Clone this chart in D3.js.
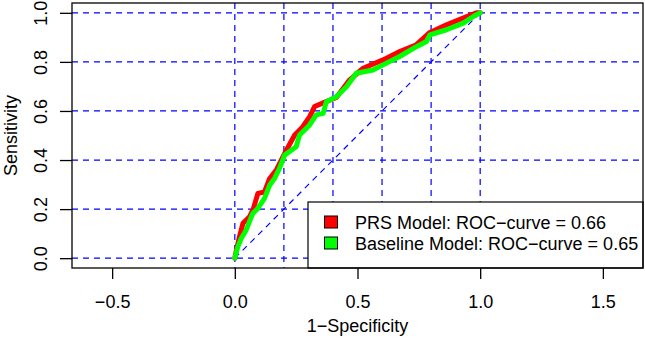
<!doctype html>
<html lang="en">

<head>
    <meta charset="utf-8">
    <title>ROC curves</title>
    <script src="https://cdn.jsdelivr.net/npm/d3@7"></script>
    <style>
        body { margin: 0; background: #fff; }
        svg { display: block; font-family: "Liberation Sans", Arial, sans-serif; }
    </style>
</head>

<body>
    <svg></svg>
    <script>
        var width = 645;
        var height = 340;

        // data
        var prsFpr = [0, 0.008, 0.019, 0.033, 0.06, 0.075, 0.094, 0.121, 0.142, 0.169, 0.196, 0.21, 0.244, 0.277,
            0.305, 0.325, 0.36, 0.414, 0.468, 0.523, 0.604, 0.672, 0.74, 0.795, 0.863, 0.958, 0.985, 1];
        var prsTpr = [0, 0.04, 0.087, 0.142, 0.169, 0.2, 0.264, 0.27, 0.325, 0.359, 0.413, 0.44, 0.502, 0.536,
            0.577, 0.618, 0.633, 0.655, 0.727, 0.774, 0.808, 0.842, 0.87, 0.92, 0.951, 0.99, 1, 1];
        var baseFpr = [0, 0.005, 0.012, 0.026, 0.046, 0.06, 0.073, 0.094, 0.121, 0.142, 0.162, 0.182, 0.203, 0.25,
            0.264, 0.305, 0.332, 0.36, 0.373, 0.414, 0.455, 0.495, 0.563, 0.618, 0.672, 0.74, 0.781, 0.795, 0.863,
            0.931, 0.972, 1];
        var baseTpr = [0, 0.02, 0.046, 0.08, 0.114, 0.15, 0.182, 0.203, 0.244, 0.298, 0.325, 0.366, 0.42, 0.454,
            0.502, 0.543, 0.584, 0.59, 0.638, 0.658, 0.699, 0.754, 0.767, 0.795, 0.822, 0.862, 0.883, 0.91, 0.931,
            0.958, 0.985, 1];
        var xTicks = [-0.5, 0, 0.5, 1, 1.5];
        var yTicks = [0, 0.2, 0.4, 0.6, 0.8, 1];
        var gridV = [0, 0.2, 0.4, 0.6, 0.8, 1];
        var legendLabels = ["PRS Model: ROC\u2212curve = 0.66", "Baseline Model: ROC\u2212curve = 0.65"];
        var colors = ["#ff0000", "#00ff00"];

        // plot region (window.top is reserved, so no bare "top")
        var plotL = 72, plotR = 643, plotT = 3, plotB = 268;
        var unit = (plotB - plotT) / 1.08; // asp = 1
        var xHalf = (plotR - plotL) / 2 / unit;

        var xScale = d3.scaleLinear()
            .domain([0.5 - xHalf, 0.5 + xHalf])
            .range([plotL, plotR]);

        var yScale = d3.scaleLinear()
            .domain([-0.04, 1.04])
            .range([plotB, plotT]);

        var svg = d3.select('svg').attr('width', width).attr('height', height);

        // grid (abline style)
        svg.append('g').selectAll('line')
            .data(yTicks)
            .enter()
            .append('line')
            .attr('x1', plotL).attr('x2', plotR)
            .attr('y1', function (d) { return yScale(d); })
            .attr('y2', function (d) { return yScale(d); })
            .attr('stroke', '#0000ff').attr('stroke-width', 1.2)
            .attr('stroke-dasharray', '6,5');

        svg.append('g').selectAll('line')
            .data(gridV)
            .enter()
            .append('line')
            .attr('y1', plotT).attr('y2', plotB)
            .attr('x1', function (d) { return xScale(d); })
            .attr('x2', function (d) { return xScale(d); })
            .attr('stroke', '#0000ff').attr('stroke-width', 1.2)
            .attr('stroke-dasharray', '6,5');

        // chance diagonal
        svg.append('line')
            .attr('x1', xScale(0)).attr('y1', yScale(0))
            .attr('x2', xScale(1)).attr('y2', yScale(1))
            .attr('stroke', '#0000ff').attr('stroke-width', 1.2)
            .attr('stroke-dasharray', '6,5');

        // ROC curves
        var line = d3.line()
            .x(function (d) { return xScale(d[0]); })
            .y(function (d) { return yScale(d[1]); });

        var curves = [d3.zip(prsFpr, prsTpr), d3.zip(baseFpr, baseTpr)];

        svg.append('g').selectAll('path')
            .data(curves)
            .enter()
            .append('path')
            .attr('d', line)
            .attr('fill', 'none')
            .attr('stroke', function (d, i) { return colors[i]; })
            .attr('stroke-width', 5)
            .attr('stroke-linejoin', 'round')
            .attr('stroke-linecap', 'round');

        // legend
        var lg = svg.append('g');
        lg.append('rect')
            .attr('x', 308).attr('y', 202)
            .attr('width', plotR - 308).attr('height', plotB - 202)
            .attr('fill', '#fff').attr('stroke', '#000').attr('stroke-width', 1.2);

        var rows = lg.selectAll('g.row')
            .data(legendLabels)
            .enter()
            .append('g')
            .attr('class', 'row')
            .attr('transform', function (d, i) { return 'translate(0,' + (222 + i * 21) + ')'; });

        rows.append('rect')
            .attr('x', 324.5).attr('y', -6).attr('width', 13).attr('height', 12)
            .attr('fill', function (d, i) { return colors[i]; })
            .attr('stroke', '#000').attr('stroke-width', 1);

        rows.append('text')
            .attr('x', 355).attr('y', 6.5)
            .attr('font-size', 18)
            .attr('fill', '#000')
            .text(function (d) { return d; });

        // box
        svg.append('rect')
            .attr('x', plotL).attr('y', plotT)
            .attr('width', plotR - plotL).attr('height', plotB - plotT)
            .attr('fill', 'none').attr('stroke', '#000').attr('stroke-width', 1.3);

        // axes
        var fmt = function (d) { return d3.format('.1f')(d).replace('-', '\u2212'); };

        var xAxis = d3.axisBottom(xScale)
            .tickValues(xTicks)
            .tickSize(11)
            .tickSizeOuter(0)
            .tickFormat(fmt);

        var yAxis = d3.axisLeft(yScale)
            .tickValues(yTicks)
            .tickSize(12)
            .tickSizeOuter(0)
            .tickFormat(fmt);

        var gx = svg.append('g')
            .attr('transform', 'translate(0,' + plotB + ')')
            .call(xAxis);
        gx.select('.domain').remove();
        gx.selectAll('line').attr('stroke', '#000').attr('stroke-width', 1.3);
        gx.selectAll('text')
            .attr('y', 40).attr('dy', null)
            .attr('font-size', 18).attr('fill', '#000')
            .attr('font-family', '"Liberation Sans", Arial, sans-serif');

        var gy = svg.append('g')
            .attr('transform', 'translate(' + plotL + ',0)')
            .call(yAxis);
        gy.select('.domain').remove();
        gy.selectAll('line').attr('stroke', '#000').attr('stroke-width', 1.3);
        gy.selectAll('text')
            .attr('transform', 'rotate(-90)')
            .attr('x', 0).attr('y', -25).attr('dy', null)
            .attr('text-anchor', 'middle')
            .attr('font-size', 18).attr('fill', '#000')
            .attr('font-family', '"Liberation Sans", Arial, sans-serif');

        // axis titles
        svg.append('text')
            .attr('x', (plotL + plotR) / 2).attr('y', 332)
            .attr('text-anchor', 'middle')
            .attr('font-size', 18)
            .text('1\u2212Specificity');

        svg.append('text')
            .attr('transform', 'translate(17,' + (plotT + plotB) / 2 + ') rotate(-90)')
            .attr('text-anchor', 'middle')
            .attr('font-size', 18)
            .text('Sensitivity');
    </script>

</body>

</html>
